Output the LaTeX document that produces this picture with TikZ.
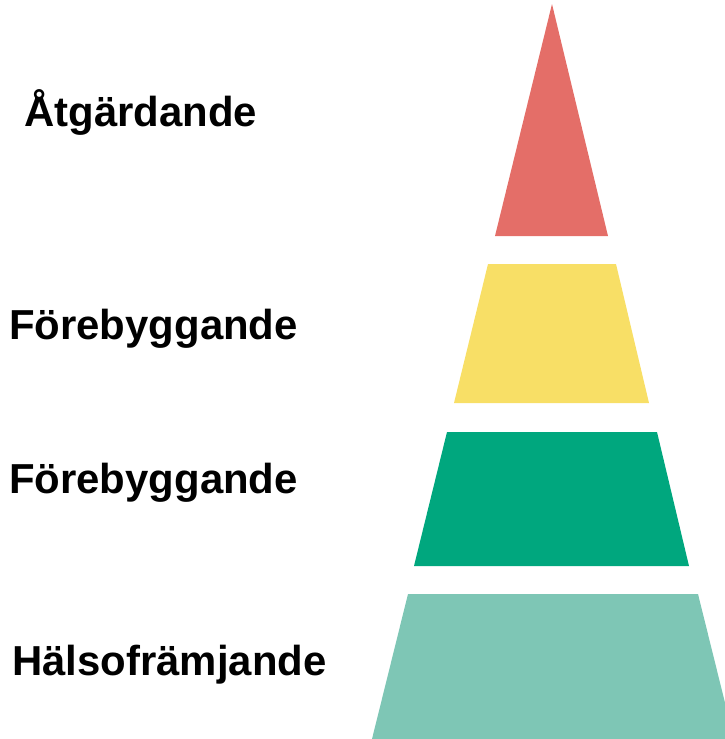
\documentclass[tikz,border=0pt]{standalone}
\usepackage{fontspec}
\setmainfont{Liberation Sans}
\usepackage{xcolor}
\usetikzlibrary{positioning}
\definecolor{cRed}{RGB}{228,110,104}
\definecolor{cYellow}{RGB}{248,223,102}
\definecolor{cGreen}{RGB}{0,167,126}
\definecolor{cMint}{RGB}{126,198,181}
\tikzset{
  levellabel/.style={anchor=base west,inner sep=0pt,
                     font=\fontsize{41.9}{48}\selectfont\bfseries},
  layer/.style={draw=none}
}

\begin{document}
\begin{tikzpicture}[x=1pt,y=-1pt]
  \clip (0,0) rectangle (725,739);

  % pyramid, top to bottom
  \fill[layer,cRed] (552,4) -- (608,236) -- (495,236) -- cycle;
  \fill[layer,cYellow] (488,264) -- (616,264) -- (649,403) -- (454,403) -- cycle;
  \fill[layer,cGreen] (447,432) -- (657,432) -- (689,566) -- (414,566) -- cycle;
  \fill[layer,cMint] (408,594) -- (698,594) -- (734,739) -- (372,739) -- cycle;

  % labels
  \node[levellabel] (atg) at (24,126) {Åtgärdande};
  \node[levellabel] (fore1) at (9,339) {Förebyggande};
  \node[levellabel] (fore2) at (9,493) {Förebyggande};
  \node[levellabel] (hals) at (12,675) {Hälsofrämjande};
\end{tikzpicture}
\end{document}
